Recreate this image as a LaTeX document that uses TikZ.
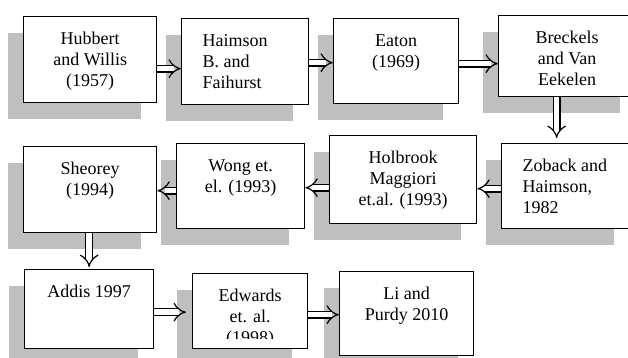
\documentclass[tikz,border=0pt]{standalone}
\usepackage{fontspec}
\setmainfont{Liberation Serif}
\usetikzlibrary{arrows.meta,shadows}

% text block of a stage box: width, height, text
\newcommand{\ctext}[3]{\parbox[c][#2][t]{#1}{\centering\rule{0pt}{28pt}#3}}
\newcommand{\ltext}[3]{\parbox[c][#2][t]{#1}{\raggedright\leftskip=21pt\rule{0pt}{28pt}#3}}

\begin{document}
\begin{tikzpicture}[x=1pt, y=-1pt,
    stage/.style={draw, line width=1.3pt, fill=white, inner sep=0pt, anchor=north west,
      font=\fontsize{18}{21}\selectfont,
      drop shadow={shadow xshift=-16pt, shadow yshift=-16pt, fill=black!25, opacity=1}},
    flow/.style={double, double distance=5.4pt, line width=1.2pt, -{Implies[length=7pt, width=16pt]}}]
  \useasboundingbox (0,0) rectangle (628,358);
  % first row
  \node[stage] (hubbert)  at (23,16)  {\ctext{133pt}{86pt}{Hubbert\\and Willis\\(1957)}};
  \node[stage] (haimson)  at (181,18) {\ltext{127pt}{86pt}{Haimson\\B. and\\Faihurst}};
  \node[stage] (eaton)    at (333,18) {\ctext{125pt}{85pt}{Eaton\\(1969)}};
  \node[stage] (breckels) at (498,15) {\ctext{137pt}{81pt}{Breckels\\and Van\\Eekelen}};
  % second row
  \node[stage] (zoback)   at (501,143) {\ltext{128pt}{85pt}{Zoback and\\Haimson,\\1982}};
  \node[stage] (holbrook) at (329,135) {\ctext{147pt}{88pt}{Holbrook\\Maggiori\\et.al. (1993)}};
  \node[stage] (wong)     at (176,143) {\ctext{128pt}{85pt}{Wong et.\\el. (1993)}};
  \node[stage] (sheorey)  at (23,146)  {\ctext{133pt}{86pt}{Sheorey\\(1994)}};
  % third row
  \node[stage] (addis)    at (24,269)  {\ctext{129pt}{79pt}{Addis 1997}};
  \node[stage] (edwards)  at (192,273) {\ctext{115pt}{75pt}{Edwards\\et. al.}};
  \node[stage] (li)       at (339,271) {\ctext{134pt}{84pt}{Li and\\Purdy 2010}};
  \begin{scope}
    \clip (192,273) rectangle (307,338);
    \node[font=\fontsize{18}{21}\selectfont, anchor=base] (edwyear)
      at ([yshift=-70pt]edwards.north) {(1998)};
  \end{scope}
  % connectors
  \draw[flow] ([yshift=-9pt]hubbert.east) -- ([yshift=-9pt]hubbert.east -| haimson.west);
  \draw[flow] ([yshift=-1pt]haimson.east) -- ([yshift=-1pt]haimson.east -| eaton.west);
  \draw[flow] ([yshift=-2.5pt]eaton.east) -- ([yshift=-2.5pt]eaton.east -| breckels.west);
  \draw[flow] ([xshift=-10.5pt]breckels.south) -- ([xshift=-10.5pt,yshift=5pt]breckels.south |- zoback.north);
  \draw[flow] ([yshift=-2.5pt]zoback.west) -- ([yshift=-2.5pt]zoback.west -| holbrook.east);
  \draw[flow] ([yshift=-8pt]holbrook.west) -- ([yshift=-8pt]holbrook.west -| wong.east);
  \draw[flow] ([yshift=-4.5pt]wong.west) -- ([yshift=-4.5pt]wong.west -| sheorey.east);
  \draw[flow] ([xshift=-1pt]sheorey.south) -- ([xshift=-1pt,yshift=2pt]sheorey.south |- addis.north);
  \draw[flow] ([yshift=-3pt]addis.east) -- ([yshift=-3pt,xshift=-6pt]addis.east -| edwards.west);
  \draw[flow] ([yshift=-3.5pt]edwards.east) -- ([yshift=-3.5pt]edwards.east -| li.west);
\end{tikzpicture}
\end{document}
